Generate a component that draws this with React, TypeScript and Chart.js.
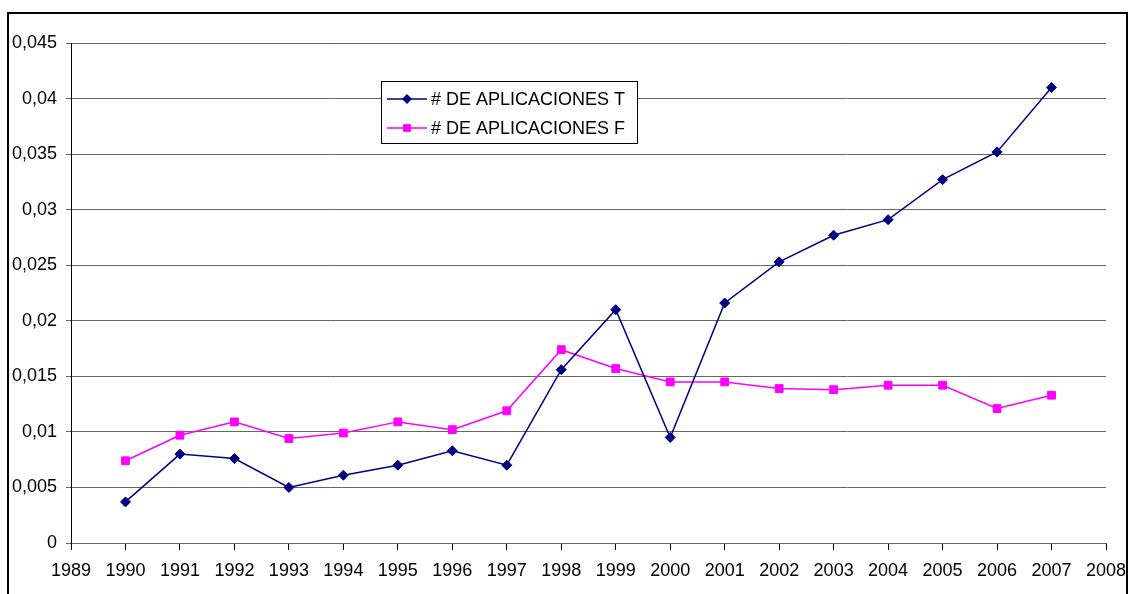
import React, { useEffect, useRef } from "react";
import { Chart, registerables } from "chart.js";

Chart.register(...registerables);

const years = [1990, 1991, 1992, 1993, 1994, 1995, 1996, 1997, 1998, 1999, 2000, 2001, 2002, 2003, 2004, 2005, 2006, 2007];
const seriesT = [0.0037, 0.0080, 0.0076, 0.0050, 0.0061, 0.0070, 0.0083, 0.0070, 0.0156, 0.0210, 0.0095, 0.0216, 0.0253, 0.0277, 0.0291, 0.0327, 0.0352, 0.0410];
const seriesF = [0.0074, 0.0097, 0.0109, 0.0094, 0.0099, 0.0109, 0.0102, 0.0119, 0.0174, 0.0157, 0.0145, 0.0145, 0.0139, 0.0138, 0.0142, 0.0142, 0.0121, 0.0133];
const labelT = "# DE APLICACIONES T";
const labelF = "# DE APLICACIONES F";
const xTicks = [1989, 1990, 1991, 1992, 1993, 1994, 1995, 1996, 1997, 1998, 1999, 2000, 2001, 2002, 2003, 2004, 2005, 2006, 2007, 2008];
const yTicks = [0, 0.005, 0.01, 0.015, 0.02, 0.025, 0.03, 0.035, 0.04, 0.045];

const FONT = "'Liberation Sans', Arial, sans-serif";
const NAVY = "#000080";
const MAGENTA = "#FF00FF";
const GRID = "#666666";

const legendPlugin = {
  id: "boxLegend",
  afterDraw(chart: any) {
    const ctx = chart.ctx;
    ctx.save();
    const bx = 381.5, by = 81.5, bw = 256, bh = 62;
    ctx.fillStyle = "#ffffff";
    ctx.fillRect(bx, by, bw, bh);
    ctx.strokeStyle = "#000000";
    ctx.lineWidth = 1;
    ctx.strokeRect(bx, by, bw, bh);
    const rows = [99, 128];
    chart.data.datasets.forEach((ds: any, i: number) => {
      const y = rows[i];
      ctx.strokeStyle = ds.borderColor;
      ctx.lineWidth = 1.5;
      ctx.beginPath();
      ctx.moveTo(387, y);
      ctx.lineTo(427, y);
      ctx.stroke();
      ctx.fillStyle = ds.pointBackgroundColor;
      ctx.beginPath();
      if (ds.pointStyle === "rectRot") {
        const r = ds.pointRadius;
        ctx.moveTo(407, y - r);
        ctx.lineTo(407 + r, y);
        ctx.lineTo(407, y + r);
        ctx.lineTo(407 - r, y);
        ctx.closePath();
      } else {
        const s = Math.SQRT1_2 * ds.pointRadius;
        ctx.rect(407 - s, y - s, 2 * s, 2 * s);
      }
      ctx.fill();
      ctx.fillStyle = "#000000";
      ctx.font = `18px ${FONT}`;
      ctx.textBaseline = "middle";
      ctx.textAlign = "left";
      ctx.fillText(ds.label, 431, y + 1);
    });
    ctx.restore();
  },
};

function fmtY(v: number) {
  if (v === 0) return "0";
  return String(parseFloat(Number(v).toFixed(3))).replace(".", ",");
}

export default function App() {
  const ref = useRef<HTMLCanvasElement>(null);
  useEffect(() => {
    if (!ref.current) return;
    const chart = new Chart(ref.current, {
      type: "line",
      data: {
        datasets: [
          {
            label: labelT,
            data: years.map((y, i) => ({ x: y, y: seriesT[i] })),
            borderColor: NAVY,
            backgroundColor: NAVY,
            pointBackgroundColor: NAVY,
            pointBorderColor: NAVY,
            pointStyle: "rectRot",
            pointRadius: 5,
            pointBorderWidth: 1,
            borderWidth: 1.5,
            tension: 0,
          },
          {
            label: labelF,
            data: years.map((y, i) => ({ x: y, y: seriesF[i] })),
            borderColor: MAGENTA,
            backgroundColor: MAGENTA,
            pointBackgroundColor: MAGENTA,
            pointBorderColor: MAGENTA,
            pointStyle: "rect",
            pointRadius: 5.5,
            pointBorderWidth: 1,
            borderWidth: 1.5,
            tension: 0,
          },
        ],
      } as any,
      options: {
        responsive: false,
        animation: false,
        devicePixelRatio: 1,
        layout: { padding: { left: 0, top: 43, right: 22, bottom: 0 } },
        plugins: { legend: { display: false }, tooltip: { enabled: false } },
        scales: {
          x: {
            type: "linear",
            min: 1989,
            max: 2008,
            afterBuildTicks: (s: any) => {
              s.ticks = xTicks.map((v) => ({ value: v }));
            },
            afterFit: (s: any) => {
              s.height = 51;
              s.paddingLeft = 0;
              s.paddingRight = 0;
              s.paddingTop = 0;
              s.paddingBottom = 0;
            },
            grid: {
              drawOnChartArea: false,
              drawTicks: true,
              tickLength: 7,
              tickColor: "#000000",
              tickWidth: 1,
            },
            border: { display: true, color: GRID, width: 1 },
            ticks: {
              autoSkip: false,
              maxRotation: 0,
              padding: 10,
              color: "#000000",
              font: { family: FONT, size: 18 },
              callback: (v: any) => String(v),
            },
          },
          y: {
            type: "linear",
            min: 0,
            max: 0.045,
            afterBuildTicks: (s: any) => {
              s.ticks = yTicks.map((v) => ({ value: v }));
            },
            afterFit: (s: any) => {
              s.width = 71;
              s.paddingLeft = 0;
              s.paddingRight = 0;
              s.paddingTop = 0;
              s.paddingBottom = 0;
            },
            grid: {
              color: GRID,
              lineWidth: 1,
              drawTicks: true,
              tickLength: 5,
              tickColor: GRID,
            },
            border: { display: true, color: "#000000", width: 1 },
            ticks: {
              padding: 9,
              color: "#000000",
              font: { family: FONT, size: 18 },
              callback: (v: any) => fmtY(Number(v)),
            },
          },
        },
      } as any,
      plugins: [legendPlugin],
    });
    return () => chart.destroy();
  }, []);

  return (
    <div style={{ position: "fixed", left: 0, top: 0, width: 1128, height: 594, overflow: "hidden", background: "#ffffff" }}>
      <div
        style={{
          position: "absolute",
          left: 7,
          top: 12,
          width: 1121,
          height: 640,
          border: "2px solid #000000",
          boxSizing: "border-box",
        }}
      />
      <canvas
        ref={ref}
        width={1128}
        height={594}
        style={{ position: "absolute", left: 0, top: 0, width: 1128, height: 594, display: "block" }}
      />
    </div>
  );
}
